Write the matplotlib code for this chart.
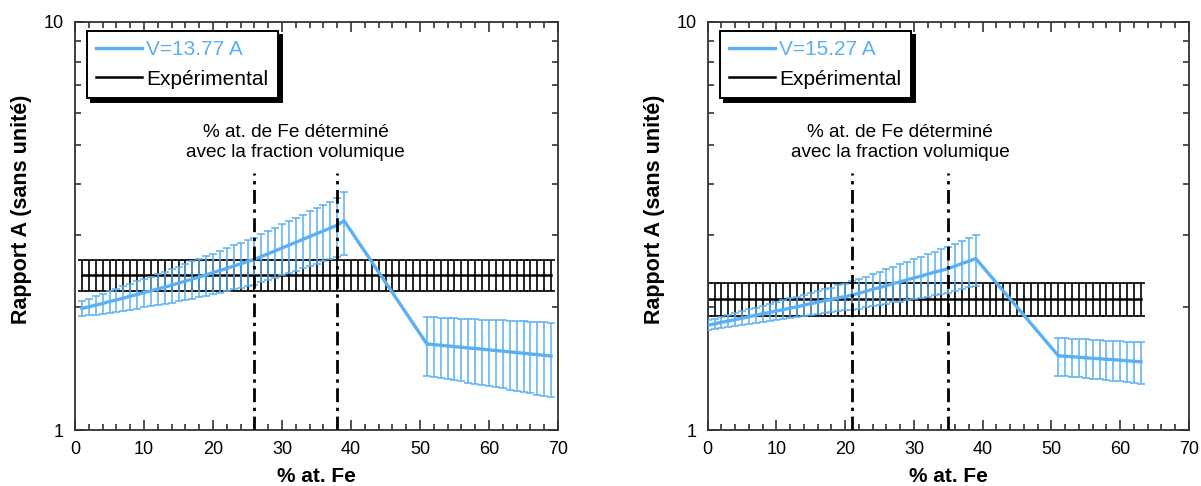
import matplotlib
matplotlib.use("Agg")
import matplotlib.pyplot as plt
import numpy as np
from matplotlib.ticker import FixedLocator, NullFormatter, FixedFormatter, MultipleLocator
from matplotlib.lines import Line2D

plt.rcParams['font.family'] = ['Liberation Sans', 'DejaVu Sans']

BLUE = "#5aaff5"

# ---------------- Data: left panel ----------------
left_label = "V=13.77 A"
left_x = list(range(1, 40)) + list(range(51, 70))
left_y = [1.986, 2.004, 2.023, 2.042, 2.065, 2.084, 2.104, 2.128, 2.148, 2.173,
          2.193, 2.218, 2.239, 2.265, 2.291, 2.317, 2.344, 2.371, 2.399, 2.432,
          2.460, 2.489, 2.523, 2.553, 2.588, 2.618, 2.661, 2.704, 2.748, 2.793,
          2.838, 2.884, 2.931, 2.979, 3.027, 3.076, 3.126, 3.177, 3.258,
          1.625, 1.619, 1.613, 1.607, 1.601, 1.595, 1.589, 1.584, 1.578, 1.572,
          1.566, 1.560, 1.554, 1.548, 1.542, 1.536, 1.530, 1.524, 1.518]
left_err = [0.085, 0.095, 0.105, 0.115, 0.125, 0.135, 0.145, 0.155, 0.165, 0.175,
            0.185, 0.195, 0.205, 0.215, 0.225, 0.235, 0.245, 0.255, 0.265, 0.275,
            0.290, 0.300, 0.310, 0.320, 0.335, 0.345, 0.360, 0.370, 0.385, 0.400,
            0.410, 0.425, 0.440, 0.455, 0.470, 0.485, 0.500, 0.520, 0.580,
            0.265, 0.268, 0.271, 0.273, 0.276, 0.279, 0.282, 0.284, 0.287, 0.290,
            0.293, 0.296, 0.298, 0.301, 0.304, 0.307, 0.309, 0.312, 0.315]
left_exp_x = list(range(1, 70))
left_exp_value = 2.40
left_exp_err = 0.21
left_vlines = [26, 38]

# ---------------- Data: right panel ----------------
right_label = "V=15.27 A"
right_x = list(range(0, 40)) + list(range(51, 64))
right_y = [1.807, 1.820, 1.837, 1.849, 1.866, 1.879, 1.897, 1.910, 1.928, 1.941,
           1.959, 1.972, 1.991, 2.004, 2.023, 2.042, 2.056, 2.075, 2.089, 2.109,
           2.123, 2.143, 2.163, 2.188, 2.213, 2.234, 2.259, 2.286, 2.307, 2.333,
           2.360, 2.382, 2.410, 2.438, 2.460, 2.489, 2.523, 2.559, 2.594, 2.630,
           1.520, 1.516, 1.512, 1.508, 1.503, 1.499, 1.495, 1.491, 1.487, 1.483,
           1.478, 1.474, 1.470]
right_err = [0.050, 0.055, 0.060, 0.065, 0.070, 0.075, 0.080, 0.085, 0.090, 0.095,
             0.100, 0.105, 0.110, 0.115, 0.120, 0.125, 0.130, 0.140, 0.145, 0.155,
             0.160, 0.170, 0.180, 0.190, 0.200, 0.210, 0.220, 0.230, 0.245, 0.255,
             0.270, 0.280, 0.290, 0.300, 0.310, 0.320, 0.335, 0.345, 0.355, 0.370,
             0.160, 0.161, 0.162, 0.163, 0.164, 0.165, 0.165, 0.166, 0.167, 0.168,
             0.168, 0.169, 0.170]
right_exp_x = list(range(0, 64))
right_exp_value = 2.10
right_exp_err = 0.195
right_vlines = [21, 35]

exp_label = "Expérimental"
annot_text = "% at. de Fe déterminé\navec la fraction volumique"
xlabel = "% at. Fe"
ylabel = "Rapport A (sans unité)"
vline_top = 4.27

W, H = 1201, 486
fig = plt.figure(figsize=(W / 100, H / 100), dpi=100)


def make_panel(rect, x, y, err, label, ex, ev, ee, vl):
    ax = fig.add_axes(rect)
    ax.set_yscale('log')
    ax.set_xlim(0, 70)
    ax.set_ylim(1, 10)
    exp_y = [ev] * len(ex)
    ax.errorbar(ex, exp_y, yerr=ee, color='black', lw=1.8, elinewidth=1.2,
                capsize=3.2, capthick=1.2, zorder=2)
    ax.errorbar(x, y, yerr=err, color=BLUE, lw=2.4, elinewidth=1.1,
                capsize=2.8, capthick=1.1, zorder=3)
    for v in vl:
        ax.vlines(v, 1, vline_top, colors='black', linestyles=(0, (5, 2, 1.2, 2)),
                  lw=2.0, zorder=4)
    ax.text(sum(vl) / 2, 10 ** ((430 - 142.5) / 408), annot_text, ha='center',
            va='center', fontsize=13.7, linespacing=1.3)

    ax.xaxis.set_major_locator(MultipleLocator(10))
    ax.xaxis.set_minor_locator(MultipleLocator(2))
    ax.yaxis.set_major_locator(FixedLocator([1, 10]))
    ax.yaxis.set_major_formatter(FixedFormatter(['1', '10']))
    ax.yaxis.set_minor_locator(FixedLocator([2, 3, 4, 5, 6, 7, 8, 9]))
    ax.yaxis.set_minor_formatter(NullFormatter())
    ax.tick_params(which='both', direction='in', top=True, right=True,
                   color='#333333', width=1.2)
    ax.tick_params(which='major', length=7)
    ax.tick_params(which='minor', length=4.5)
    ax.tick_params(axis='x', which='major', pad=8, labelsize=13)
    ax.tick_params(axis='y', which='major', pad=8, labelsize=13)
    for s in ax.spines.values():
        s.set_color('#333333')
        s.set_linewidth(1.3)

    ax.set_xlabel(xlabel, fontsize=15, fontweight='bold', va='center')
    ax.set_ylabel(ylabel, fontsize=15.5, fontweight='bold', va='center')
    ax.xaxis.set_label_coords(0.5, (430 - 476) / 408)
    ax.yaxis.set_label_coords((22 - 75) / 483, 0.54)

    h1 = Line2D([], [], color=BLUE, lw=2.4)
    h2 = Line2D([], [], color='black', lw=1.8)
    leg = ax.legend([h1, h2], [label, exp_label], loc='upper left',
                    bbox_to_anchor=(0.025, 0.978), borderaxespad=0,
                    fontsize=15, frameon=True, fancybox=False,
                    edgecolor='black', handlelength=2.2, handletextpad=0.2,
                    labelspacing=0.5, borderpad=0.45,
                    shadow={'color': 'black', 'alpha': 1, 'ox': 3, 'oy': -3})
    leg.get_frame().set_linewidth(1.4)
    leg.get_frame().set_alpha(1)
    leg.get_texts()[0].set_color(BLUE)
    return ax


make_panel([75 / W, 56 / H, 483 / W, 408 / H], left_x, left_y, left_err, left_label,
           left_exp_x, left_exp_value, left_exp_err, left_vlines)
make_panel([707.7 / W, 56 / H, 481.3 / W, 408 / H], right_x, right_y, right_err, right_label,
           right_exp_x, right_exp_value, right_exp_err, right_vlines)

fig.savefig("out.png", dpi=100)
